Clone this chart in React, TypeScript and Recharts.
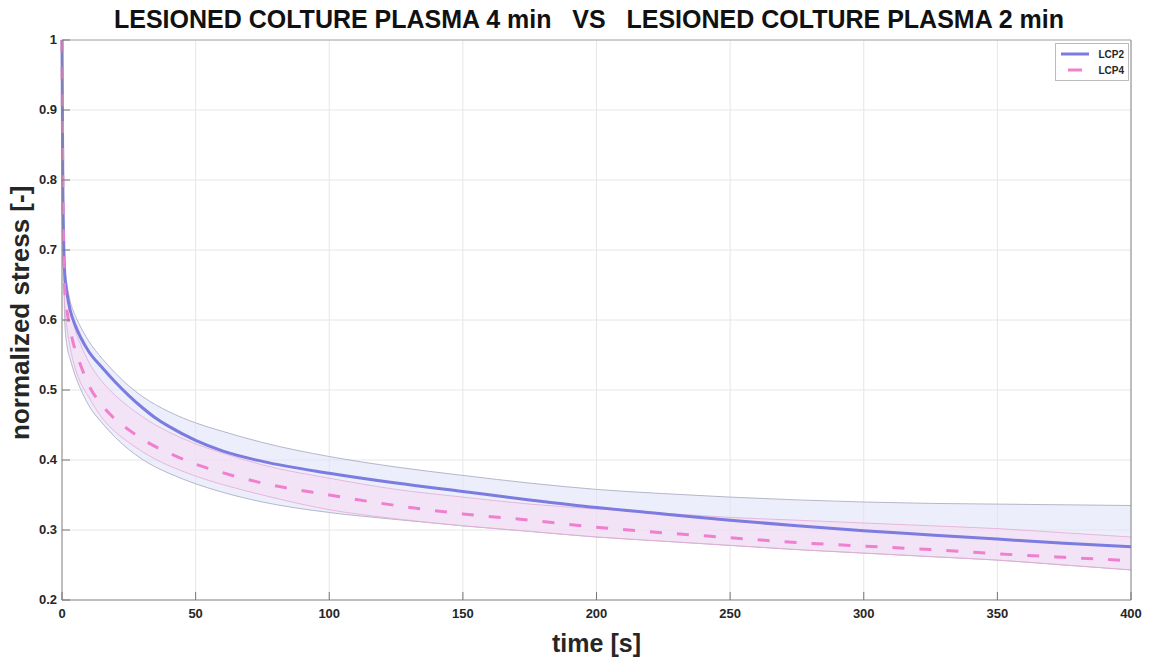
import React from "react"
import { ComposedChart, Area, Line, XAxis, YAxis, CartesianGrid, ReferenceLine } from "recharts"

// time samples [s]
const time = [0, 0.3, 0.7, 1, 2, 3, 5, 7, 10, 15, 20, 25, 30, 35, 40, 50, 60, 75, 100, 125, 150, 175, 200, 225, 250, 275, 300, 325, 350, 375, 400]

// LCP2 (lesioned colture plasma 2 min)
const lcp2Mean = [1.0, 0.8, 0.7, 0.668, 0.635, 0.615, 0.592, 0.575, 0.555, 0.532, 0.511, 0.492, 0.475, 0.46, 0.448, 0.428, 0.413, 0.398, 0.381, 0.367, 0.355, 0.343, 0.332, 0.323, 0.314, 0.306, 0.299, 0.293, 0.287, 0.281, 0.276]
const lcp2Upper = [1.0, 0.81, 0.71, 0.68, 0.648, 0.628, 0.606, 0.59, 0.57, 0.545, 0.524, 0.506, 0.491, 0.479, 0.469, 0.453, 0.441, 0.425, 0.405, 0.39, 0.378, 0.367, 0.358, 0.352, 0.347, 0.343, 0.34, 0.338, 0.337, 0.336, 0.335]
const lcp2Lower = [1.0, 0.78, 0.66, 0.6, 0.56, 0.545, 0.52, 0.501, 0.478, 0.453, 0.432, 0.415, 0.401, 0.39, 0.381, 0.366, 0.354, 0.34, 0.325, 0.315, 0.306, 0.298, 0.29, 0.284, 0.278, 0.272, 0.267, 0.262, 0.257, 0.25, 0.243]

// LCP4 (lesioned colture plasma 4 min)
const lcp4Mean = [1.0, 0.8, 0.68, 0.645, 0.61, 0.588, 0.556, 0.535, 0.507, 0.478, 0.458, 0.443, 0.43, 0.419, 0.41, 0.394, 0.382, 0.367, 0.35, 0.335, 0.323, 0.314, 0.304, 0.296, 0.289, 0.282, 0.277, 0.272, 0.266, 0.261, 0.256]
const lcp4Upper = [1.0, 0.81, 0.7, 0.665, 0.635, 0.615, 0.585, 0.565, 0.54, 0.512, 0.492, 0.476, 0.462, 0.45, 0.44, 0.423, 0.41, 0.393, 0.374, 0.358, 0.347, 0.337, 0.33, 0.324, 0.318, 0.314, 0.31, 0.306, 0.302, 0.296, 0.29]
const lcp4Lower = [1.0, 0.79, 0.66, 0.625, 0.585, 0.562, 0.53, 0.51, 0.49, 0.46, 0.44, 0.425, 0.412, 0.401, 0.392, 0.377, 0.365, 0.35, 0.329, 0.316, 0.306, 0.298, 0.29, 0.284, 0.278, 0.272, 0.267, 0.262, 0.257, 0.25, 0.243]

const xTicks = [0, 50, 100, 150, 200, 250, 300, 350, 400]
const yTicks = [0.2, 0.3, 0.4, 0.5, 0.6, 0.7, 0.8, 0.9, 1]

const data = time.map((t, i) => ({
  t,
  lcp2: lcp2Mean[i],
  lcp2Band: [lcp2Lower[i], lcp2Upper[i]],
  lcp4: lcp4Mean[i],
  lcp4Band: [lcp4Lower[i], lcp4Upper[i]],
}))

const font = "'Liberation Sans', Arial, sans-serif"
const BLUE = "#7b7be0"
const PINK = "#f07fcf"

const XTick = (props: any) => {
  const { x, y, payload } = props
  return (
    <g>
      <line x1={x} x2={x} y1={y} y2={y - 8} stroke="#777" strokeWidth={1} />
      <text x={x} y={y + 18} textAnchor="middle" fontSize={13} fontWeight="bold" fill="#262626" fontFamily={font}>
        {payload.value}
      </text>
    </g>
  )
}

const YTick = (props: any) => {
  const { x, y, payload } = props
  const v = payload.value
  return (
    <g>
      <line x1={x} x2={x + 8} y1={y} y2={y} stroke="#777" strokeWidth={1} />
      <text x={x - 5} y={y + 4} textAnchor="end" fontSize={13} fontWeight="bold" fill="#262626" fontFamily={font}>
        {v === 1 ? "1" : v.toFixed(1)}
      </text>
    </g>
  )
}

export default function App() {
  return (
    <div style={{ position: "absolute", left: 0, top: 0, width: 1152, height: 659, background: "#fff", fontFamily: font }}>
      <div
        style={{
          position: "absolute",
          left: 0,
          top: 5,
          width: 1178,
          textAlign: "center",
          fontSize: 25,
          fontWeight: "bold",
          color: "#111",
          whiteSpace: "pre",
        }}
      >
        {"LESIONED COLTURE PLASMA 4 min   VS   LESIONED COLTURE PLASMA 2 min"}
      </div>
      <ComposedChart width={1152} height={659} data={data} margin={{ top: 40, right: 21, bottom: 0, left: 0 }}>
        <CartesianGrid stroke="#e6e6e6" />
        <XAxis
          dataKey="t"
          type="number"
          domain={[0, 400]}
          ticks={xTicks}
          height={59}
          tickSize={0}
          tickMargin={0}
          tick={<XTick />}
          stroke="#888"
          label={{ value: "time [s]", position: "insideBottom", offset: 7, fontSize: 25, fontWeight: "bold", fill: "#262626", fontFamily: font }}
        />
        <YAxis
          type="number"
          domain={[0.2, 1]}
          ticks={yTicks}
          width={62}
          tickSize={0}
          tickMargin={0}
          tick={<YTick />}
          stroke="#888"
          label={{ value: "normalized stress [-]", angle: -90, position: "insideLeft", dx: 15, dy: 120, fontSize: 26, fontWeight: "bold", fill: "#262626", fontFamily: font }}
        />
        <ReferenceLine y={1} stroke="#aaa" />
        <ReferenceLine x={400} stroke="#888" />
        <Area dataKey="lcp2Band" type="monotone" fill="#dfe3f8" fillOpacity={0.6} stroke="#a4a6bd" strokeWidth={0.8} isAnimationActive={false} />
        <Area dataKey="lcp4Band" type="monotone" fill="#fbd6ef" fillOpacity={0.45} stroke="#e6a9d4" strokeWidth={0.8} isAnimationActive={false} />
        <Line dataKey="lcp2" type="monotone" stroke={BLUE} strokeWidth={3} dot={false} isAnimationActive={false} />
        <Line dataKey="lcp4" type="monotone" stroke={PINK} strokeWidth={3} strokeDasharray="12 15" dot={false} isAnimationActive={false} />
      </ComposedChart>
      <div
        style={{
          position: "absolute",
          left: 1055,
          top: 43,
          width: 72,
          height: 36,
          border: "1px solid #bbb",
          background: "#fff",
        }}
      >
        <svg width={72} height={36} style={{ position: "absolute", left: 0, top: 0 }}>
          <line x1={5} x2={33} y1={10} y2={10} stroke={BLUE} strokeWidth={3} />
          <line x1={12} x2={26} y1={26} y2={26} stroke={PINK} strokeWidth={3} />
          <text x={68} y={14} textAnchor="end" fontSize={10} fontWeight="bold" fill="#262626" fontFamily={font}>LCP2</text>
          <text x={68} y={30} textAnchor="end" fontSize={10} fontWeight="bold" fill="#262626" fontFamily={font}>LCP4</text>
        </svg>
      </div>
    </div>
  )
}
